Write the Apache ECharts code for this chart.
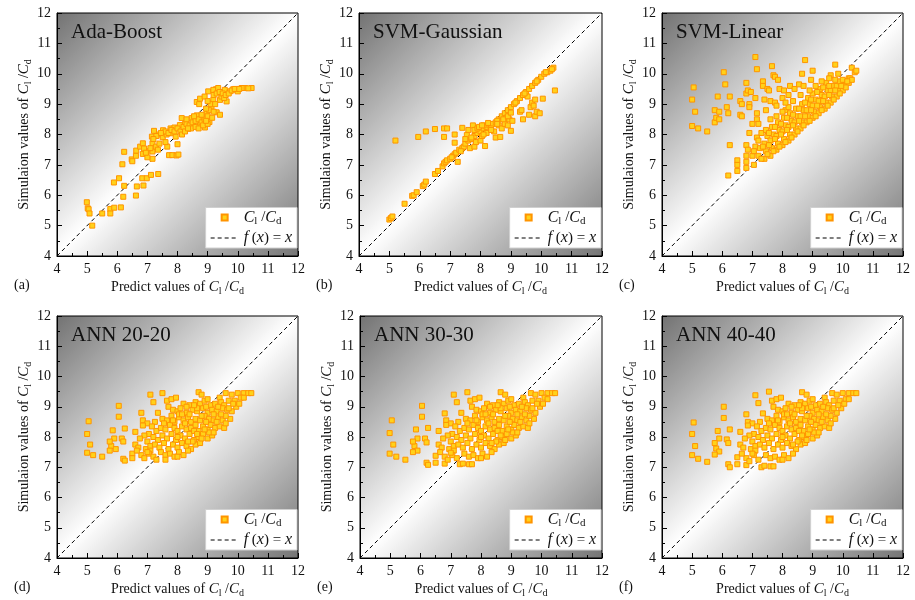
<!DOCTYPE html>
<html>
<head>
<meta charset="utf-8">
<script src="https://cdn.jsdelivr.net/npm/echarts@6.0.0/dist/echarts.min.js"></script>
<style>
html, body { margin: 0; padding: 0; background: #fff; }
#main { width: 915px; height: 600px; }
</style>
</head>
<body>
<div id="main"></div>
<script>
// values: [predicted, simulated]
var adaBoost = [
	[4.99,5.77],[5.02,5.57],[5.05,5.54],[5.08,5.40],[5.17,5.00],[5.50,5.40],[5.77,5.55],[5.77,5.40],[5.90,5.59],[6.12,5.60],
	[5.89,6.42],[6.06,6.56],[6.20,5.95],[6.23,6.31],[6.17,7.02],[6.23,7.43],[6.48,7.18],[6.50,7.12],[6.62,7.30],[6.62,5.99],
	[6.65,6.29],[6.63,7.47],[6.76,7.60],[6.85,7.71],[6.85,7.36],[6.83,6.56],[6.87,6.32],[6.98,6.56],[6.98,7.45],[6.89,7.54],
	[7.12,6.67],[7.15,7.93],[7.17,7.71],[7.17,7.20],[7.17,7.44],[7.22,8.12],[7.29,7.60],[7.36,6.70],[7.40,7.70],[7.38,8.00],
	[7.52,8.14],[7.51,7.91],[7.64,8.00],[7.66,7.60],[7.72,7.32],[7.77,8.20],[7.83,7.32],[7.83,8.04],[7.90,8.23],[7.97,7.31],
	[8.00,7.68],[8.03,7.34],[7.94,7.93],[8.08,8.31],[8.14,8.54],[8.25,8.35],[8.36,8.19],[8.47,8.54],[8.52,8.29],[8.64,8.63],
	[8.75,8.33],[8.80,8.52],[8.91,8.23],[8.97,8.70],[9.06,8.41],[8.64,9.07],[8.75,9.18],[8.72,9.00],[9.02,9.42],[9.19,9.14],
	[9.13,8.92],[9.30,8.73],[9.28,9.49],[9.41,9.14],[9.41,8.65],[9.46,9.25],[9.57,9.47],[9.63,9.09],[9.74,9.42],[9.85,9.49],
	[10.00,9.42],[10.24,9.53],[10.46,9.53],[10.13,9.53],[9.19,9.47],[9.35,9.53],
	[7.60,8.10],[7.70,8.05],[7.80,8.15],[7.90,8.10],[8.00,8.20],[8.10,8.10],[8.20,8.25],[8.30,8.35],[8.40,8.30],[8.50,8.40],
	[8.60,8.45],[8.70,8.50],[8.80,8.40],[8.90,8.50],[9.00,8.60],[8.45,8.20],[8.60,8.25],[8.70,8.20],[8.85,8.30],[9.00,8.35],
	[8.30,8.50],[8.55,8.60],[8.80,8.65],[9.05,8.80],[9.10,9.00],[9.20,9.30],[9.30,9.35],[9.40,9.40],[9.50,9.35],[9.55,9.20],
	[9.60,9.30],[9.70,9.35],[9.80,9.45],[9.90,9.50],[10.05,9.50],[10.35,9.52],[8.90,9.25],[9.00,9.10],[9.25,9.00],[7.30,7.95],
	[7.45,8.05],[7.20,7.85],[7.10,7.55],[7.00,7.25],[6.95,7.40],[7.35,7.50],[7.60,7.75],[8.15,8.00],[8.25,8.10],[8.35,8.20],
	[8.95,8.45],[8.95,8.85],[9.15,8.55],[9.20,8.75]
];
var svmGaussian = [
	[5.00,5.20],[5.05,5.25],[5.10,5.30],[5.50,5.72],[5.75,5.98],[5.80,6.00],[5.90,6.10],[6.10,6.30],[6.15,6.35],[6.20,6.45],
	[6.50,6.70],[6.60,6.80],[6.75,6.95],[6.80,7.05],[6.85,7.10],[6.90,7.15],[7.00,7.20],[7.10,7.30],[7.15,7.35],[7.20,7.40],
	[7.30,7.50],[7.40,7.55],[7.45,7.60],[7.50,7.70],[7.60,7.80],[7.70,7.85],[7.80,7.95],[7.90,8.05],[8.00,8.10],[8.10,8.20],
	[8.20,8.25],[8.30,8.30],[8.40,8.35],[8.50,8.40],[8.60,8.50],[8.70,8.60],[8.80,8.70],[8.90,8.80],[9.00,8.90],[9.10,9.00],
	[9.20,9.10],[9.30,9.20],[9.40,9.30],[9.50,9.40],[9.60,9.50],[9.70,9.60],[9.80,9.70],[9.90,9.80],[10.00,9.90],[10.10,10.00],
	[10.20,10.05],[10.30,10.10],[10.40,10.20],[10.45,9.45],
	[5.20,7.80],[5.95,7.92],[6.20,8.10],[6.50,8.18],[6.80,8.20],[6.90,8.20],[6.80,7.92],[7.15,8.00],[7.15,7.73],[7.25,7.10],
	[7.40,8.22],[7.55,7.98],[7.50,7.85],[7.60,8.15],[7.65,7.55],[7.75,8.30],[7.80,8.15],[7.80,7.60],[7.85,7.75],[7.90,8.20],
	[8.00,7.80],[8.05,7.95],[8.10,8.30],[8.15,7.62],[8.20,8.05],[8.25,8.38],[8.35,8.20],[8.50,7.90],[8.45,8.10],[8.60,8.30],
	[8.65,7.92],[8.70,8.20],[8.80,8.35],[8.85,8.55],[8.90,8.30],[8.95,8.50],[9.00,8.12],[9.05,8.45],[9.30,8.75],[9.35,8.80],
	[9.40,8.50],[9.60,8.65],[9.65,8.90],[9.70,9.05],[9.75,8.95],[9.80,9.15],[9.80,8.60],[9.85,8.75],[9.95,8.70],[10.05,9.18],
	[9.55,9.25],[8.55,8.45],[8.75,8.50],[8.90,8.60],[9.00,8.72],[8.35,8.15],[7.95,8.25],[8.05,8.30],[8.10,8.00],[7.70,7.90],
	[9.15,9.05],[9.45,9.35],[9.85,9.75],[10.15,10.05],[10.35,10.15],[8.55,8.35],[7.35,7.45],[7.05,7.25]
];
var svmLinear = [
	[5.00,9.15],[5.05,9.55],[5.10,8.75],[5.00,8.28],[5.20,8.20],[5.50,8.10],[5.75,8.80],[5.75,8.40],[5.80,8.55],[5.85,9.25],
	[5.90,8.75],[5.90,8.50],[6.05,10.05],[6.10,9.65],[6.15,8.90],[6.20,8.70],[6.25,9.25],[6.25,7.65],[6.20,6.65],[6.50,7.15],
	[6.50,7.00],[6.50,6.80],[6.60,9.10],[6.60,8.65],[6.65,8.60],[6.65,9.00],[6.80,9.70],[6.80,9.35],[6.85,9.45],[6.90,9.00],
	[6.90,8.90],[6.95,9.40],[7.00,8.35],[6.90,8.05],[6.80,7.65],[6.85,7.50],[6.80,7.30],[6.80,7.10],[6.80,6.90],[7.00,7.30],
	[7.05,7.00],[7.10,10.55],[7.15,10.15],[7.10,9.20],[7.15,8.70],[7.15,8.50],[7.20,8.35],[7.35,9.75],[7.35,9.60],[7.40,9.15],
	[7.45,8.80],[7.50,9.50],[7.55,9.45],[7.60,9.10],[7.65,10.25],[7.70,9.95],[7.75,9.90],[7.75,9.05],[7.80,8.95],[7.85,9.80],
	[7.90,9.50],[8.00,9.20],[8.05,9.45],[8.10,8.80],[8.20,9.30],[8.25,9.60],[8.40,9.50],[8.55,9.65],[8.65,10.00],[8.70,9.60],
	[8.75,10.45],[8.95,9.80],[9.00,10.10],[9.60,9.95],[9.75,10.30],[9.85,10.00],[10.30,10.20],[10.40,10.05],[10.45,10.10],[10.20,9.85],
	[10.10,9.75],[7.10,7.60],[7.15,7.90],[7.05,7.45],
	[7.20,7.30],[7.25,7.55],[7.20,7.80],[7.30,8.05],[7.40,7.20],[7.45,7.45],[7.40,7.70],[7.50,7.95],[7.45,8.15],[7.60,7.30],
	[7.65,7.55],[7.60,7.80],[7.70,8.00],[7.65,8.25],[7.60,8.50],[7.80,7.50],[7.85,7.70],[7.80,7.95],[7.90,8.15],[7.85,8.40],
	[7.80,8.60],[8.00,7.65],[8.05,7.85],[8.00,8.10],[8.10,8.30],[8.05,8.55],[8.00,8.75],[8.20,7.80],[8.25,8.00],[8.20,8.25],
	[8.30,8.45],[8.25,8.70],[8.20,8.90],[8.40,8.00],[8.45,8.20],[8.40,8.40],[8.50,8.60],[8.45,8.85],[8.60,8.20],[8.65,8.40],
	[8.60,8.60],[8.70,8.80],[8.65,9.00],[8.80,8.40],[8.85,8.60],[8.80,8.80],[8.90,9.00],[8.85,9.20],[9.00,8.55],[9.05,8.75],
	[9.00,8.95],[9.10,9.15],[9.00,9.35],[9.20,8.70],[9.25,8.90],[9.20,9.10],[9.30,9.30],[9.25,9.50],[9.40,8.85],[9.45,9.05],
	[9.40,9.25],[9.50,9.45],[9.45,9.70],[9.60,9.05],[9.65,9.25],[9.60,9.45],[9.70,9.60],[9.80,9.25],[9.85,9.45],[9.80,9.60],
	[9.90,9.75],[10.00,9.45],[10.05,9.60],[10.00,9.80],[10.20,9.70],[10.25,9.85],
	[7.30,7.20],[7.50,7.35],[7.70,7.45],[7.90,7.60],[8.10,7.75],[8.30,7.90],[8.50,8.10],[8.70,8.30],[8.90,8.45],[9.10,8.60],
	[9.30,8.80],[9.50,8.95],[9.70,9.15],[9.90,9.35],[10.10,9.55],[10.30,9.80],[7.35,7.60],[7.55,7.65],[7.75,7.85],[7.95,8.00],
	[8.15,8.15],[8.35,8.30],[8.55,8.45],[8.75,8.60],[8.95,8.80],[9.15,8.95],[9.35,9.10],[9.55,9.30],[9.75,9.45],[9.95,9.60],
	[10.15,9.75],[7.55,8.05],[7.75,8.25],[7.95,8.35],[8.15,8.55],[8.35,8.65],[8.55,8.85],[8.75,9.05],[8.95,9.15],[9.15,9.40],
	[9.35,9.55],[9.55,9.60],[9.75,9.80],[8.10,9.05],[8.35,9.10],[8.60,9.30],[8.90,9.45],[9.10,9.60],[9.30,9.75],[9.55,9.85]
];
var ann2020 = [
	[7.50,9.45],[8.70,9.48],[8.80,9.40],[9.60,9.45],[10.00,9.45],[10.20,9.45],[10.35,9.45],[10.45,9.45],[7.10,9.40],[9.40,9.30],
	[9.80,9.40],[7.20,9.15],[7.65,9.20],[7.80,9.25],[7.95,9.30],[8.20,9.10],[8.60,9.15],[8.75,9.10],[8.90,9.20],[9.00,9.25],
	[9.10,9.05],[9.45,9.15],[9.55,9.05],[9.70,9.20],[9.90,9.20],[10.10,9.30],[10.20,9.30],[8.40,9.05],[6.05,9.03],[7.35,8.80],
	[7.70,9.00],[7.85,8.90],[8.00,8.85],[8.10,8.95],[8.30,8.80],[8.50,8.90],[8.65,8.85],[8.85,8.95],[9.00,8.80],[9.15,8.90],
	[9.30,8.85],[9.50,8.95],[9.65,8.90],[9.80,8.85],[9.95,9.00],[6.80,8.80],[8.95,9.00],[6.05,8.67],[6.85,8.55],[7.00,8.45],
	[7.25,8.50],[7.50,8.60],[7.65,8.55],[7.80,8.70],[7.90,8.50],[8.05,8.65],[8.20,8.55],[8.35,8.65],[8.45,8.50],[8.60,8.60],
	[8.75,8.55],[8.90,8.70],[9.05,8.60],[9.20,8.55],[9.35,8.65],[9.50,8.55],[9.75,8.60],[9.60,8.70],[5.05,8.52],[5.85,8.22],
	[6.25,8.28],[6.60,8.17],[6.85,8.38],[7.15,8.35],[7.30,8.20],[7.45,8.30],[7.60,8.25],[7.75,8.40],[7.90,8.30],[8.00,8.20],
	[8.15,8.35],[8.30,8.25],[8.45,8.30],[8.60,8.40],[8.70,8.20],[8.85,8.35],[9.00,8.25],[9.10,8.40],[9.25,8.30],[9.40,8.35],
	[9.55,8.30],[7.05,8.10],[5.00,8.10],[5.90,7.95],[6.15,7.95],[6.90,8.05],[6.75,7.95],[7.20,8.00],[7.35,7.90],[7.50,8.05],
	[7.65,7.95],[7.80,8.10],[7.95,7.90],[8.10,8.05],[8.25,7.95],[8.40,8.10],[8.55,7.90],[8.70,8.00],[8.85,8.10],[9.00,7.95],
	[9.15,8.05],[7.00,7.85],[8.00,8.00],[5.10,7.75],[5.80,7.70],[5.75,7.85],[5.95,7.60],[6.20,7.85],[6.60,7.75],[6.70,7.65],
	[6.95,7.60],[7.10,7.70],[7.25,7.75],[7.40,7.65],[7.55,7.80],[7.70,7.60],[7.85,7.75],[8.00,7.65],[8.15,7.80],[8.30,7.70],
	[8.45,7.60],[8.60,7.75],[8.75,7.80],[8.50,7.85],[7.10,7.55],[5.00,7.48],[5.20,7.40],[5.50,7.35],[5.75,7.55],[6.20,7.28],
	[6.50,7.45],[6.50,7.30],[6.80,7.40],[6.90,7.30],[7.05,7.45],[7.20,7.35],[7.30,7.25],[7.45,7.50],[7.60,7.40],[7.60,7.25],
	[7.75,7.45],[7.90,7.35],[8.05,7.50],[8.20,7.40],[8.35,7.55],[8.00,7.35],[6.25,7.22],[7.00,7.50],[6.65,7.55],
	[8.05,8.75],[8.25,8.45],[8.40,8.75],[8.55,8.20],[8.65,8.95],[8.80,8.70],[8.95,8.50],[9.05,8.15],[9.20,8.75],[9.30,8.50],
	[9.45,8.75],[9.60,8.45],[9.70,8.95],[9.85,9.10],[10.05,9.10],[8.35,7.85],[8.65,8.10],[8.80,7.95],[8.90,8.25],[9.20,8.15],
	[7.55,8.45],[7.85,8.55],[8.15,8.75],[8.30,9.00],[8.55,9.05],[9.25,9.10],[9.35,9.00]
];
var ann3030 = [
	[7.55,9.48],[8.65,9.48],[8.80,9.40],[9.65,9.45],[10.00,9.45],[10.20,9.45],[10.35,9.45],[10.45,9.45],[7.10,9.40],[9.40,9.30],
	[9.80,9.40],[7.20,9.15],[7.65,9.20],[7.80,9.25],[7.95,9.30],[8.20,9.10],[8.60,9.15],[8.75,9.10],[8.90,9.20],[9.00,9.25],
	[9.10,9.05],[9.45,9.15],[9.55,9.05],[9.70,9.20],[9.90,9.20],[10.10,9.30],[10.20,9.25],[8.40,9.05],[6.05,9.03],[7.35,8.80],
	[7.70,9.00],[7.85,8.90],[8.00,8.85],[8.10,8.95],[8.30,8.80],[8.50,8.90],[8.65,8.85],[8.85,8.95],[9.00,8.80],[9.15,8.90],
	[9.30,8.85],[9.50,8.95],[9.65,8.90],[9.80,8.80],[9.95,9.00],[6.80,8.78],[8.95,9.00],[6.05,8.67],[6.85,8.55],[7.00,8.45],
	[7.25,8.50],[7.50,8.60],[7.65,8.55],[7.80,8.70],[7.90,8.50],[8.05,8.65],[8.20,8.55],[8.35,8.65],[8.45,8.50],[8.60,8.60],
	[8.75,8.55],[8.90,8.70],[9.05,8.60],[9.20,8.55],[9.35,8.65],[9.50,8.55],[9.75,8.60],[9.60,8.70],[5.05,8.55],[5.85,8.25],
	[6.25,8.30],[6.60,8.20],[6.85,8.40],[7.15,8.35],[7.30,8.20],[7.45,8.30],[7.60,8.25],[7.75,8.40],[7.90,8.30],[8.00,8.20],
	[8.15,8.35],[8.30,8.25],[8.45,8.30],[8.60,8.40],[8.70,8.20],[8.85,8.35],[9.00,8.25],[9.10,8.40],[9.25,8.30],[9.40,8.35],
	[9.55,8.30],[7.05,8.10],[4.98,8.13],[5.90,7.95],[6.15,7.95],[6.90,8.05],[6.75,7.95],[7.20,8.00],[7.35,7.90],[7.50,8.05],
	[7.65,7.95],[7.80,8.10],[7.95,7.90],[8.10,8.05],[8.25,7.95],[8.40,8.10],[8.55,7.90],[8.70,8.00],[8.85,8.10],[9.00,7.95],
	[9.15,8.05],[7.00,7.85],[8.00,8.00],[5.10,7.75],[5.80,7.70],[5.75,7.85],[5.90,7.55],[6.20,7.82],[6.60,7.75],[6.70,7.65],
	[6.95,7.60],[7.10,7.70],[7.25,7.75],[7.40,7.65],[7.55,7.80],[7.70,7.60],[7.85,7.75],[8.00,7.65],[8.15,7.80],[8.30,7.70],
	[8.45,7.60],[8.60,7.75],[8.75,7.80],[8.50,7.85],[7.10,7.55],[4.98,7.45],[5.20,7.35],[5.50,7.25],[5.75,7.50],[6.20,7.15],
	[6.50,7.38],[6.50,7.15],[6.80,7.35],[6.80,7.12],[7.05,7.40],[7.20,7.30],[7.30,7.10],[7.45,7.45],[7.60,7.35],[7.60,7.10],
	[7.70,7.10],[7.75,7.40],[7.90,7.30],[8.05,7.45],[8.20,7.35],[8.35,7.50],[8.00,7.30],[6.25,7.08],[7.00,7.48],[6.65,7.50],
	[7.40,7.12],[6.90,7.25],
	[8.05,8.75],[8.25,8.45],[8.40,8.75],[8.55,8.20],[8.65,8.95],[8.80,8.70],[8.95,8.50],[9.05,8.15],[9.20,8.75],[9.30,8.50],
	[9.45,8.75],[9.60,8.45],[9.70,8.95],[9.85,9.10],[10.05,9.10],[8.35,7.80],[8.65,8.05],[8.80,7.90],[8.90,8.25],[9.20,8.15],
	[7.55,8.45],[7.85,8.55],[8.15,8.75],[8.30,9.00],[8.55,9.05],[9.25,9.10],[9.35,9.00]
];
var ann4040 = [
	[7.55,9.50],[8.65,9.48],[8.80,9.40],[9.65,9.45],[10.00,9.45],[10.20,9.45],[10.35,9.45],[10.45,9.45],[7.10,9.38],[9.40,9.30],
	[9.80,9.40],[7.20,9.12],[7.65,9.20],[7.80,9.25],[7.95,9.30],[8.20,9.10],[8.60,9.15],[8.75,9.10],[8.90,9.20],[9.00,9.25],
	[9.10,9.05],[9.45,9.15],[9.55,9.05],[9.70,9.20],[9.90,9.20],[10.10,9.25],[10.20,9.25],[8.40,9.05],[6.05,9.00],[7.35,8.78],
	[7.70,9.00],[7.85,8.90],[8.00,8.85],[8.10,8.95],[8.30,8.80],[8.50,8.90],[8.65,8.85],[8.85,8.95],[9.00,8.80],[9.15,8.90],
	[9.30,8.85],[9.50,8.95],[9.65,8.90],[9.80,8.80],[9.95,8.95],[6.80,8.75],[8.95,9.00],[6.05,8.63],[6.85,8.50],[7.00,8.45],
	[7.25,8.50],[7.50,8.60],[7.65,8.55],[7.80,8.70],[7.90,8.50],[8.05,8.65],[8.20,8.55],[8.35,8.65],[8.45,8.50],[8.60,8.60],
	[8.75,8.55],[8.90,8.70],[9.05,8.60],[9.20,8.55],[9.35,8.65],[9.50,8.55],[9.75,8.60],[9.60,8.70],[5.05,8.48],[5.85,8.20],
	[6.25,8.25],[6.60,8.17],[6.85,8.38],[7.15,8.35],[7.30,8.20],[7.45,8.30],[7.60,8.25],[7.75,8.40],[7.90,8.30],[8.00,8.20],
	[8.15,8.35],[8.30,8.25],[8.45,8.30],[8.60,8.40],[8.70,8.20],[8.85,8.35],[9.00,8.25],[9.10,8.40],[9.25,8.30],[9.40,8.35],
	[9.55,8.30],[7.05,8.10],[5.00,8.10],[5.90,7.95],[6.15,7.92],[6.90,8.05],[6.75,7.95],[7.20,8.00],[7.35,7.90],[7.50,8.05],
	[7.65,7.95],[7.80,8.10],[7.95,7.90],[8.10,8.05],[8.25,7.95],[8.40,8.10],[8.55,7.90],[8.70,8.00],[8.85,8.10],[9.00,7.95],
	[9.15,8.05],[7.00,7.85],[8.00,8.00],[5.10,7.70],[5.80,7.62],[5.75,7.80],[5.90,7.52],[6.20,7.80],[6.60,7.75],[6.70,7.65],
	[6.95,7.60],[7.10,7.70],[7.25,7.75],[7.40,7.65],[7.55,7.80],[7.70,7.60],[7.85,7.75],[8.00,7.65],[8.15,7.80],[8.30,7.70],
	[8.45,7.60],[8.60,7.75],[8.75,7.80],[8.50,7.85],[7.10,7.55],[5.00,7.40],[5.20,7.28],[5.50,7.18],[5.75,7.42],[6.20,7.10],
	[6.50,7.33],[6.50,7.10],[6.80,7.30],[6.80,7.07],[7.05,7.40],[7.20,7.25],[7.30,7.00],[7.45,7.40],[7.60,7.30],[7.60,7.03],
	[7.70,7.03],[7.75,7.35],[7.90,7.25],[8.05,7.40],[8.20,7.30],[8.35,7.45],[8.00,7.25],[6.25,7.00],[7.00,7.45],[6.65,7.45],
	[7.40,7.05],[6.90,7.20],
	[8.05,8.75],[8.25,8.45],[8.40,8.75],[8.55,8.20],[8.65,8.95],[8.80,8.70],[8.95,8.50],[9.05,8.15],[9.20,8.75],[9.30,8.50],
	[9.45,8.75],[9.60,8.45],[9.70,8.95],[9.85,9.05],[10.05,9.10],[8.35,7.75],[8.65,8.05],[8.80,7.90],[8.90,8.25],[9.20,8.15],
	[7.55,8.45],[7.85,8.55],[8.15,8.75],[8.30,9.00],[8.55,9.05],[9.25,9.10],[9.35,9.00]
];
var panelData = [adaBoost, svmGaussian, svmLinear, ann2020, ann3030, ann4040];
var panelNames = ['Ada-Boost', 'SVM-Gaussian', 'SVM-Linear', 'ANN 20-20', 'ANN 30-30', 'ANN 40-40'];
var panelTags = ['(a)', '(b)', '(c)', '(d)', '(e)', '(f)'];
var axisMin = 4, axisMax = 12, axisStep = 1;
var diagLine = [[4, 4], [12, 12]];

var serif = '"Liberation Serif", "Times New Roman", serif';
var boxes = [
	{left: 57, top: 13, width: 241, height: 243},
	{left: 359, top: 13, width: 243, height: 243},
	{left: 662, top: 13, width: 241, height: 243},
	{left: 57, top: 316, width: 241, height: 242},
	{left: 360, top: 316, width: 242, height: 242},
	{left: 662, top: 316, width: 241, height: 242}
];

var rich = {
	n: {fontFamily: serif, fontSize: 14, color: '#111'},
	i: {fontFamily: serif, fontSize: 15, fontStyle: 'italic', color: '#111'},
	s: {fontFamily: serif, fontSize: 10, color: '#111', padding: [8, 0, 0, 0]}
};
var legendRich = {
	n: {fontFamily: serif, fontSize: 15, color: '#111'},
	i: {fontFamily: serif, fontSize: 16, fontStyle: 'italic', color: '#111'},
	s: {fontFamily: serif, fontSize: 11, color: '#111', padding: [8, 0, 0, 0]}
};
var ccText = '{i|C}{s|l}{n| /}{i|C}{s|d}';
// legend icons: a small square in a 28x6 box, and a dashed stroke
var squareIcon = 'path://M0,0M28,6M11,0h6v6h-6z';
var dashIcon = 'path://M0,0h4v1h-4zM7,0h4v1h-4zM14,0h4v1h-4zM21,0h4v1h-4zM28,0h0v1h0z';

function axisConf(i, xName) {
	return {
		gridIndex: i,
		type: 'value',
		min: axisMin,
		max: axisMax,
		interval: axisStep,
		name: xName,
		nameLocation: 'middle',
		nameGap: 0,
		nameMoveOverlap: false,
		nameTextStyle: {rich: rich},
		axisLine: {onZero: false, lineStyle: {color: '#000', width: 1}},
		axisTick: {inside: true, length: 5, lineStyle: {color: '#000'}},
		minorTick: {show: true, splitNumber: 2, length: 3, lineStyle: {color: '#000'}},
		splitLine: {show: false},
		axisLabel: {color: '#111', fontFamily: serif, fontSize: 14, margin: 6}
	};
}

var grids = [], xAxes = [], yAxes = [], series = [], legends = [], titles = [], tags = [];
for (var i = 0; i < 6; i++) {
	var b = boxes[i];
	grids.push({
		left: b.left, top: b.top, width: b.width, height: b.height,
		outerBoundsMode: 'none',
		show: true,
		borderColor: '#000',
		borderWidth: 1,
		backgroundColor: new echarts.graphic.LinearGradient(0, 0, 1, 1, [
			{offset: 0, color: '#727272'},
			{offset: 0.5, color: '#ffffff'},
			{offset: 1, color: '#747474'}
		])
	});
	var xa = axisConf(i, '{n|Predict values of }' + ccText);
	xa.nameGap = 22;
	xAxes.push(xa);
	var ya = axisConf(i, '{n|Simulaion values of }' + ccText);
	ya.nameGap = 24;
	yAxes.push(ya);
	series.push({
		name: 'cc',
		type: 'scatter',
		xAxisIndex: i,
		yAxisIndex: i,
		symbol: 'rect',
		symbolSize: 5,
		itemStyle: {color: '#FFD21A', borderColor: '#FF9400', borderWidth: 1, opacity: 1},
		data: panelData[i],
		z: 3
	});
	series.push({
		name: 'fx',
		type: 'line',
		xAxisIndex: i,
		yAxisIndex: i,
		symbol: 'none',
		itemStyle: {color: '#000'},
		lineStyle: {color: '#000', width: 1, type: [4, 3]},
		data: diagLine,
		z: 2
	});
	legends.push({
		orient: 'vertical',
		right: 915 - (b.left + b.width) + 1,
		bottom: 600 - (b.top + b.height) + 8,
		data: [
			{name: 'cc', icon: squareIcon},
			{name: 'fx', icon: dashIcon, itemStyle: {color: '#000', borderWidth: 0}}
		],
		itemWidth: 28,
		itemHeight: 6,
		itemGap: 3,
		padding: [2, 5, 2, 4],
		backgroundColor: '#fff',
		borderColor: '#d0d0d0',
		borderWidth: 1,
		selectedMode: false,
		formatter: function(name) {
			return name == 'cc' ? ccText : '{i|f}{n| (}{i|x}{n|) = }{i|x}';
		},
		textStyle: {rich: legendRich}
	});
	titles.push({
		text: panelNames[i],
		left: b.left + 14,
		top: b.top + 9,
		padding: 0,
		textStyle: {fontFamily: serif, fontSize: 21, fontWeight: 'normal', color: '#111'}
	});
	tags.push({
		type: 'text',
		left: b.left - 43,
		top: b.top + b.height + 22,
		style: {text: panelTags[i], font: '14px ' + serif, fill: '#111'}
	});
}

var chart = echarts.init(document.getElementById('main'));
chart.setOption({
	animation: false,
	title: titles,
	grid: grids,
	xAxis: xAxes,
	yAxis: yAxes,
	legend: legends,
	graphic: tags,
	series: series
});
</script>
</body>
</html>
